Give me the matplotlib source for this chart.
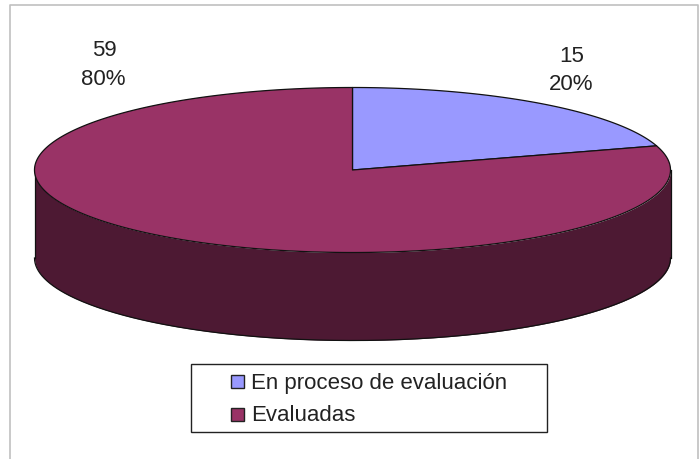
#!/usr/bin/env python3
"""3D style pie chart of evaluation status, drawn on a pixel sized axes."""

import numpy as np
import matplotlib
matplotlib.use('Agg')
import matplotlib.pyplot as plt
from matplotlib.patches import Rectangle

categories = ['En proceso de evaluación', 'Evaluadas']
values = [15, 59]
percent_labels = ['20%', '80%']
top_colors = ['#9999FF', '#993366']
side_color = '#4D1933'

W, H = 699, 459
CX, CY, RX, RY, DEPTH = 352.5, 170, 318, 82.5, 88

plt.rcParams['font.family'] = ['Liberation Sans', 'DejaVu Sans']


def ellipse_points(t, dy=0):
    return CX + RX * np.cos(t), CY + dy + RY * np.sin(t)


def draw_pie(ax):
    # side wall first, only the front half shows
    t = np.linspace(np.pi, 0, 300)
    x, y = ellipse_points(t)
    ax.fill_between(x, y, y + DEPTH, color=side_color, lw=0, zorder=1)
    ax.plot(x, y + DEPTH, color='#111111', lw=0.9, zorder=2)
    ax.plot([x[0], x[0]], [y[0], y[0] + DEPTH], color='#111111', lw=0.9, zorder=2)
    ax.plot([x[-1], x[-1]], [y[-1], y[-1] + DEPTH], color='#111111', lw=0.9, zorder=2)

    # slices go clockwise from 12 o'clock, y axis is flipped so angles go up
    start = -np.pi / 2
    total = sum(values)
    for val, col in zip(values, top_colors):
        end = start + 2 * np.pi * val / total
        t = np.linspace(start, end, 400)
        x, y = ellipse_points(t)
        ax.fill(np.r_[CX, x], np.r_[CY, y], facecolor=col, edgecolor='#111111',
                lw=0.9, joinstyle='round', zorder=3)
        start = end


def draw_legend(ax):
    ax.add_patch(Rectangle((190.5, 363.5), 356.5, 68, fc='white', ec='#222222', lw=1.0, zorder=4))
    for i, (name, col) in enumerate(zip(categories, top_colors)):
        y = 381.5 + i * 32.5
        ax.add_patch(Rectangle((231, y - 6.5), 13, 13, fc=col, ec='#222222', lw=1.0, zorder=5))
        ax.text(251, y + 1.5, name, fontsize=16, color='#222222', va='center', ha='left', zorder=5)


fig = plt.figure(figsize=(W / 100, H / 100), dpi=100, facecolor='white')
ax = fig.add_axes([0, 0, 1, 1])
ax.set_xlim(0, W)
ax.set_ylim(H, 0)
ax.axis('off')

# chart area border, no bottom edge inside the picture
ax.plot([9.5, 9.5, 698, 698], [H, 4.5, 4.5, H], color='#C0C0C0', lw=1.2, zorder=0)

draw_pie(ax)
draw_legend(ax)

ax.text(104, 51, str(values[1]), fontsize=16, color='#222222', ha='center', va='center')
ax.text(103.5, 79.5, percent_labels[1], fontsize=16, color='#222222', ha='center', va='center')
ax.text(572, 57, str(values[0]), fontsize=16, color='#222222', ha='center', va='center')
ax.text(571, 85, percent_labels[0], fontsize=16, color='#222222', ha='center', va='center')

fig.savefig('out.png', dpi=100)
